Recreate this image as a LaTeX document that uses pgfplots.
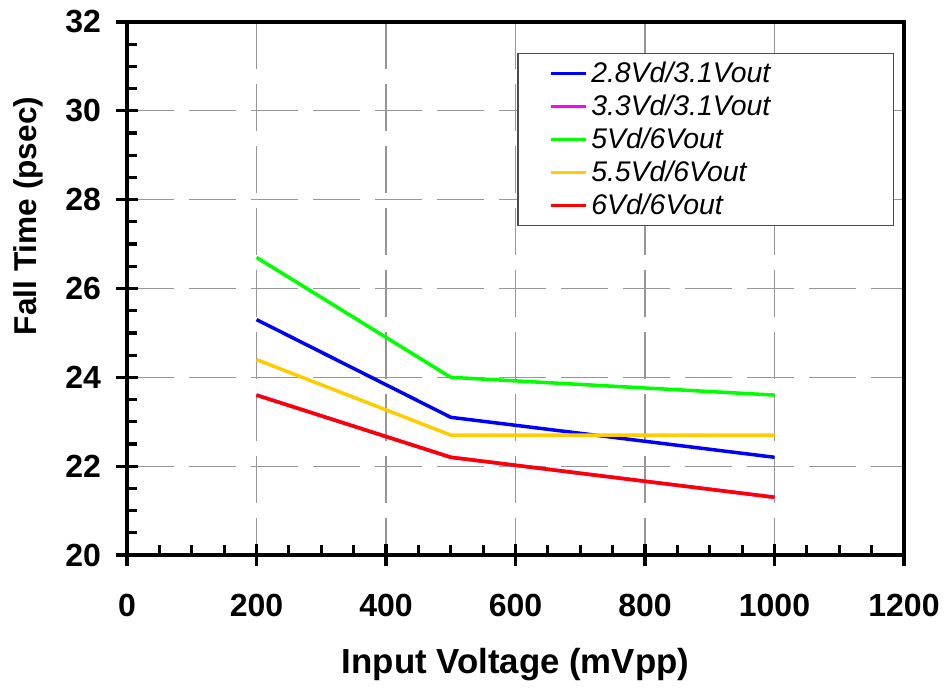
\documentclass[border=0pt]{standalone}
\usepackage{fontspec}
\setmainfont{Liberation Sans}
\usepackage{pgfplots}
\pgfplotsset{compat=1.18}

\definecolor{serA}{RGB}{0,0,255}
\definecolor{serB}{RGB}{255,0,255}
\definecolor{serC}{RGB}{0,255,0}
\definecolor{serD}{RGB}{255,204,0}
\definecolor{serE}{RGB}{255,0,0}
\definecolor{gridgray}{RGB}{150,150,150}

\begin{document}
\begin{tikzpicture}
\path[use as bounding box] (-63.5pt,-67.5pt) rectangle (409.5pt,277.5pt);
\begin{axis}[
  at={(0pt,0pt)}, anchor=south west,
  scale only axis, width=388.5pt, height=266.5pt,
  xmin=0, xmax=1200, ymin=20, ymax=32,
  xtick={0,200,...,1200}, ytick={20,22,...,32},
  minor x tick num=3, minor y tick num=3,
  axis line style={line width=1.7pt, black},
  tick style={line width=1.6pt, black},
  tick align=center,
  major tick length=11pt,
  minor tick length=5pt,
  every minor x tick/.append style={yshift=2.5pt},
  every minor y tick/.append style={xshift=2.5pt},
  xtick pos=bottom, ytick pos=left,
  grid=major,
  major grid style={gridgray, line width=0.6pt, dash pattern=on 23.5pt off 7.5pt},
  every major x grid/.append style={dash phase=5pt},
  ticklabel style={font=\fontsize{16}{19}\selectfont\bfseries},
  xticklabel style={yshift=-10.5pt},
  yticklabel style={xshift=-4pt},
  /pgf/number format/assume math mode=true,
  /pgf/number format/set thousands separator={},
  xlabel={Input Voltage (mVpp)},
  ylabel={Fall Time (psec)},
  xlabel style={font=\fontsize{17.4}{21}\selectfont\bfseries,
    at={(axis description cs:0.5,0)}, anchor=base, yshift=-59pt},
  ylabel style={font=\fontsize{15.8}{19}\selectfont\bfseries,
    at={(axis description cs:-0.1171,0.636)}, anchor=base},
  legend style={at={(0.502,0.942)}, anchor=north west, draw=black!70, line width=0.75pt, fill=white,
    font=\fontsize{14.2}{17}\selectfont\itshape, inner xsep=15.5pt, inner ysep=0pt, row sep=-3.5pt,
    nodes={inner xsep=1pt, inner ysep=1pt, text height=13.5pt, text depth=4.5pt}},
  legend cell align=left,
  legend image code/.code={\draw[#1] (0pt,0pt) -- (17.5pt,0pt); \path (18.5pt,0pt);},
  every axis plot/.append style={line width=1.75pt},
]
\addplot[serA] coordinates {(200,25.3) (500,23.1) (1000,22.2)};
\addlegendentry{\makebox[134.5pt][l]{2.8Vd/3.1Vout}}
\addplot[serB] coordinates {(200,23.6) (500,22.2) (1000,21.3)};
\addlegendentry{\makebox[134.5pt][l]{3.3Vd/3.1Vout}}
\addplot[serC] coordinates {(200,26.7) (500,24.0) (1000,23.6)};
\addlegendentry{\makebox[134.5pt][l]{5Vd/6Vout}}
\addplot[serD] coordinates {(200,24.4) (500,22.7) (1000,22.7)};
\addlegendentry{\makebox[134.5pt][l]{5.5Vd/6Vout}}
\addplot[serE] coordinates {(200,23.6) (500,22.2) (1000,21.3)};
\addlegendentry{\makebox[134.5pt][l]{6Vd/6Vout}}
\end{axis}
\end{tikzpicture}
\end{document}
